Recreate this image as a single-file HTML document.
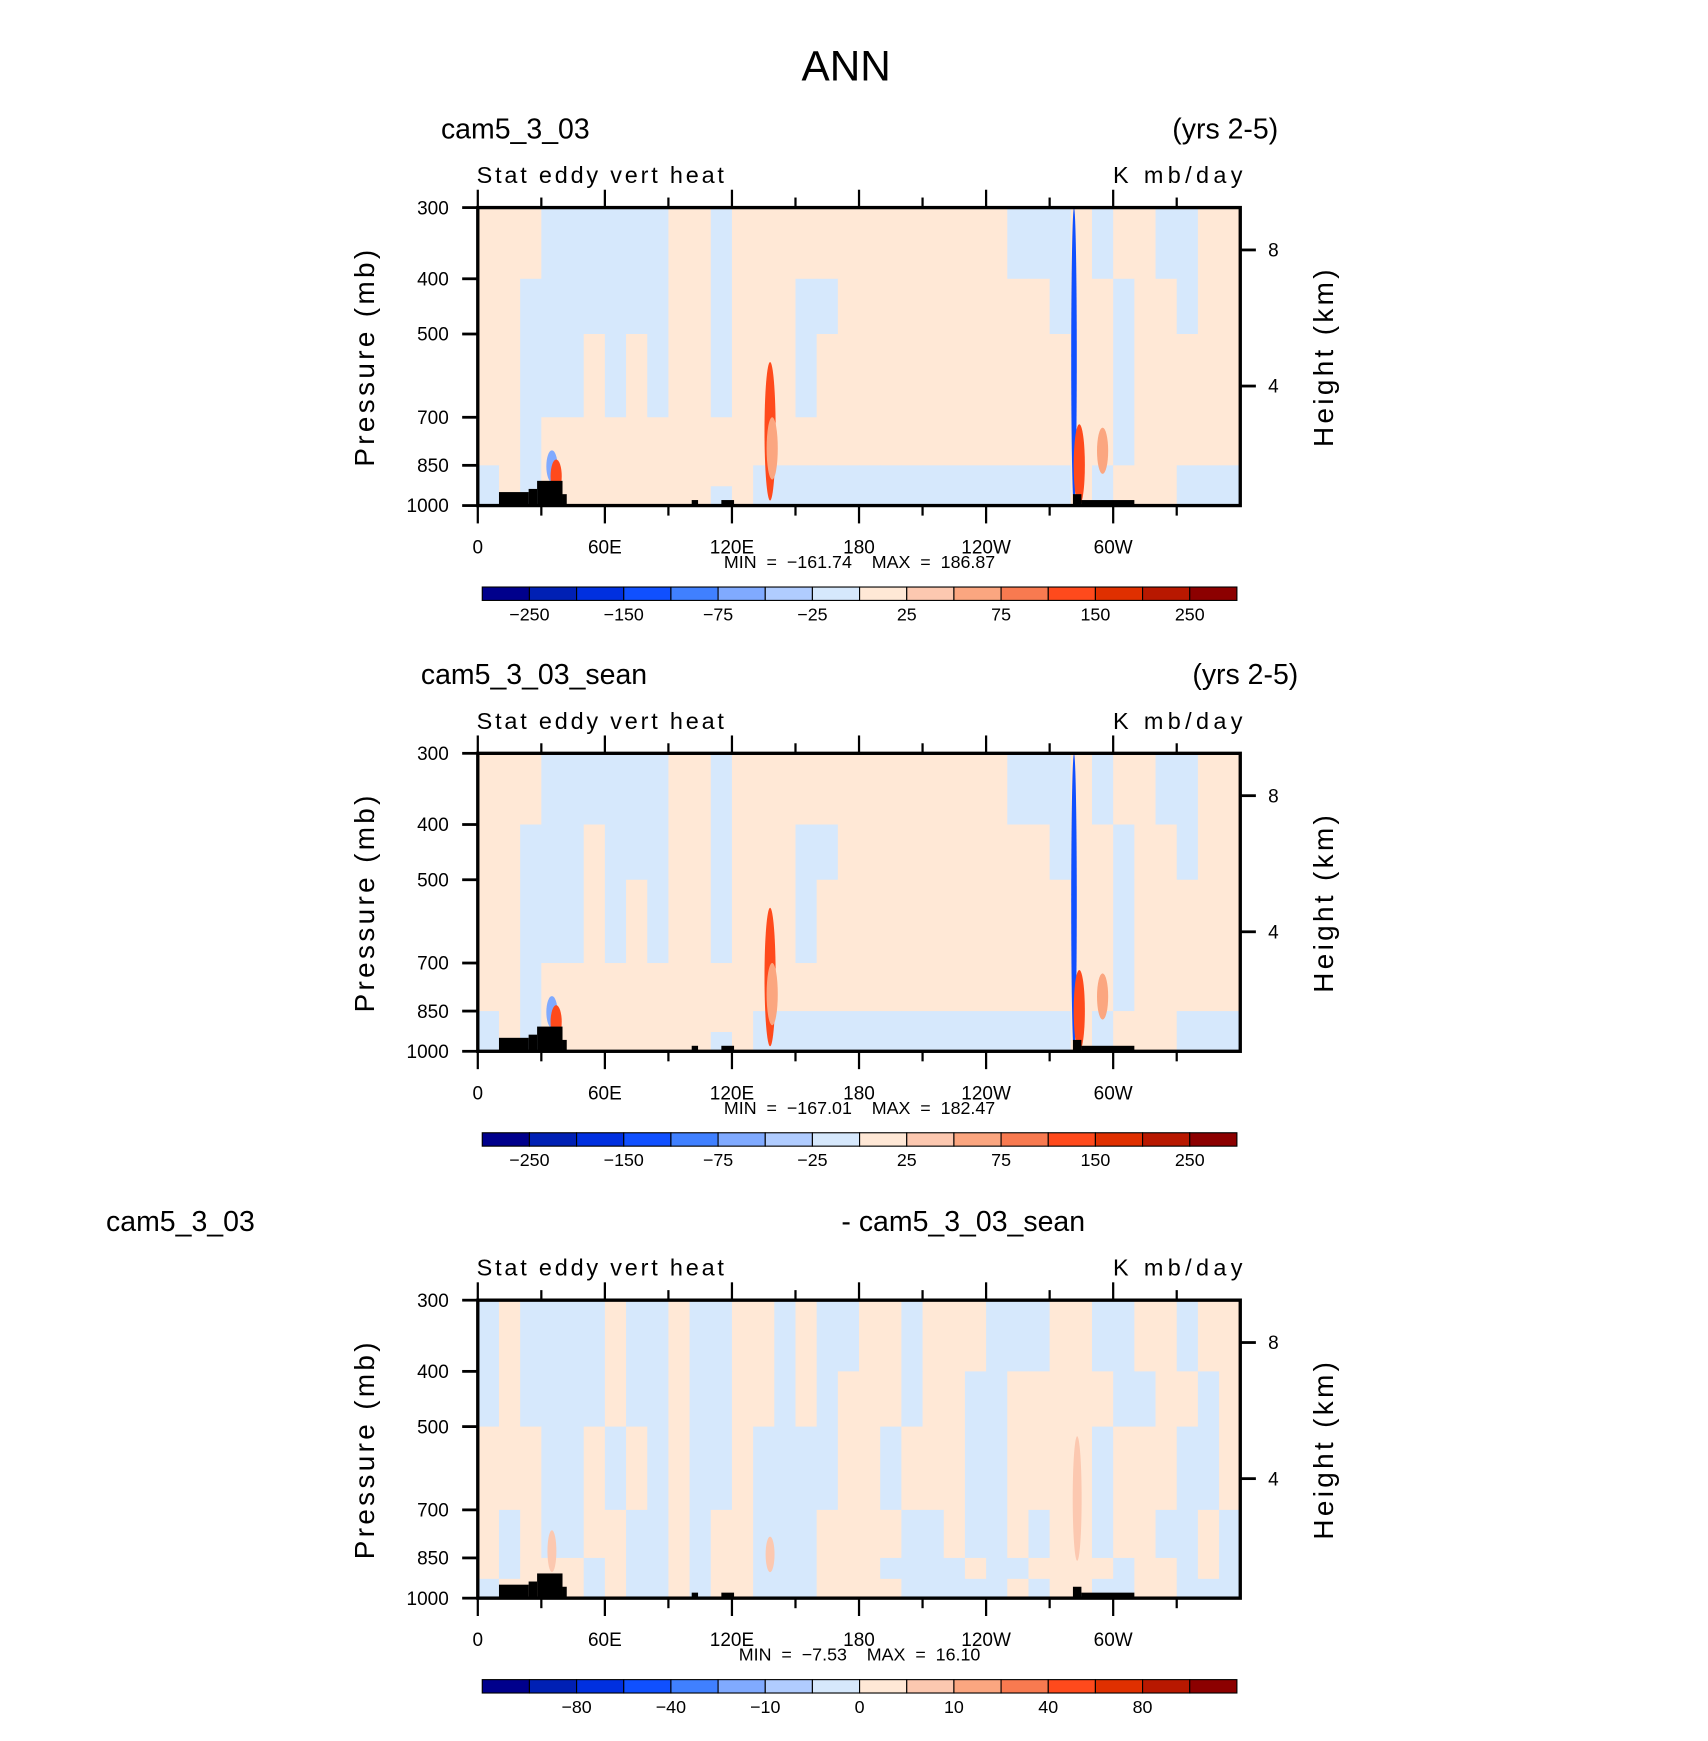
<!DOCTYPE html>
<html><head><meta charset="utf-8"><style>
html,body{margin:0;padding:0;background:#fff}
svg{display:block}
text{font-family:"Liberation Sans",sans-serif;fill:#000}
</style></head><body>
<svg id="fig" width="1708" height="1741" viewBox="0 0 1530 1560" preserveAspectRatio="none" xmlns="http://www.w3.org/2000/svg">
<text x="758" y="72" font-size="38" text-anchor="middle" font-weight="300" textLength="80" lengthAdjust="spacingAndGlyphs">ANN</text>
</svg>
<script>
// ---- data ----
const lonTickLabels = ["0","60E","120E","180","120W","60W"];
const lonTickValues = [0,60,120,180,240,300];
const presTicks = [300,400,500,700,850,1000];
const heightTicks = [8,4];
const heightTickPres = [356,617];
const rowEdges = [300,400,500,700,850,925,1000];
const panel1Rows = [
"pppbbbbbbppbpppppppppppppbbbpbppbbpp",
"ppbbbbbbbppbpppbbppppppppppbppbppbpp",
"ppbbbpbpbppbpppbppppppppppppppbppppp",
"ppbpppppppppppppppppppppppppppbppppp",
"bpbppppppppppbbbbbbbbbbbbbbbpbpppbbb",
"bpbppppppppbpbbbbbbbbbbbbbbbpbpppbbb"];
const panel2Rows = [
"pppbbbbbbppbpppppppppppppbbbpbppbbpp",
"ppbbbpbbbppbpppbbppppppppppbppbppbpp",
"ppbbbpbpbppbpppbppppppppppppppbppppp",
"ppbpppppppppppppppppppppppppppbppppp",
"bpbppppppppppbbbbbbbbbbbbbbbpbpppbbb",
"bpbppppppppbpbbbbbbbbbbbbbbbpbpppbbb"];
const panel3Rows = [
"bpbbbbpbbpbbppbpbbppbpppbbbppbbppbpp",
"bpbbbbpbbpbbppbpbpppbppbbpppppbbppbp",
"pppbbpbpbpbbpbbbbppbpppbbppppbpppbbp",
"pbpbbppbbpbppbbbppppbbpbbpbppbppbbpb",
"pbpppbpbbpbppbbbpppbbbbpbbppppbppbpb",
"bppppbpbbpbppbbbppppbbbbbpbppbbppbbb"];
// features: [lon, pTop, pBottom, level]
const panel1Feat = [[138,560,980,150],[139,700,900,75],[281.5,300,1000,-150],[284,720,1000,150],[35,800,910,-75],[37,830,950,150],[295,730,880,75]];
const panel2Feat = [[138,560,980,150],[139,700,900,75],[281.5,300,1000,-150],[284,720,1000,150],[35,800,910,-75],[37,830,950,150],[295,730,880,75]];
const panel3Feat = [[283,520,860,10],[35,760,900,10],[138,780,900,10]];
// topography: [lonStart, lonEnd, pTop]
const topo = [[10,24,947],[24,28,935],[28,40,905],[40,42,955],[101,104,978],[115,121,978],[281,285,955],[285,310,978]];
const cbColors = ["#00008c","#0020b4","#0030e0","#1050ff","#4080ff","#80aaff","#b0ccff","#d6e8fc","#ffe8d6","#fcc8b0","#fba680","#f87a50","#ff4a1c","#e03000","#b81800","#8c0000"];
const cbLabels12 = ["-250","-150","-75","-25","25","75","150","250"];
const cbLabels3 = ["-80","-40","-10","0","10","40","80"];
const minMax = [["-161.74","186.87"],["-167.01","182.47"],["-7.53","16.10"]];
// ---- drawing ----
const svg = document.getElementById('fig');
const NS = "http://www.w3.org/2000/svg";
const X0 = 428, X1 = 1111;
function mk(tag, attrs, parent){const e=document.createElementNS(NS,tag);for(const k in attrs)e.setAttribute(k,attrs[k]);(parent||svg).appendChild(e);return e;}
function xs(lon){return X0+(X1-X0)*lon/360;}
function colorFor(c){return c==='b'?"#d6e8fc":c==='o'?"#fcc8b0":"#ffe8d6";}
function levelColor(v,scale3){
  if(scale3){ if(v>=40)return "#f87a50"; if(v>=10)return "#fcc8b0"; if(v<=-10)return "#b0ccff"; return "#ffe8d6";}
  if(v<=-150)return "#1050ff"; if(v<=-75)return "#80aaff"; if(v>=150)return "#ff4a1c"; if(v>=75)return "#fba680"; return "#fcc8b0";
}
function panel(idx, top, rows, feats, labels, titleL, titleR, tlx, trx){
  const Y0=top, Y1=top+267;
  const ys=p=>Y1-(Y1-Y0)*Math.log(1000/p)/Math.log(1000/300);
  const g=mk('g',{});
  
  
  const t1=mk('text',{x:tlx,y:top-62,'font-size':25.5},g); t1.textContent=titleL;
   
  const t2=mk('text',{x:trx,y:top-62,'font-size':25.5,'text-anchor':'end'},g); t2.textContent=titleR;
   
  const s1=mk('text',{x:427,y:top-22,'font-size':21,'letter-spacing':'1.5',textLength:223},g); s1.textContent="Stat  eddy  vert  heat";
   
  const s2=mk('text',{x:997,y:top-22,'font-size':21,textLength:116},g); s2.textContent="K  mb/day";
   
  for(let r=0;r<rows.length;r++){
    for(let c=0;c<36;c++){
      const ch=rows[r][c]||'p';
      const rc=mk('rect',{x:xs(c*10),y:ys(rowEdges[r]),width:xs(10)-X0+0.6,height:ys(rowEdges[r+1])-ys(rowEdges[r])+0.6,fill:colorFor(ch)},g);
      
      
    }
  }
  feats.forEach(f=>{
    const cx=xs(f[0]), yt=ys(f[1]), yb=ys(f[2]);
    const w=f[3]===-150?2.5:(idx===3?4:5);
    const el=mk('ellipse',{cx:cx,cy:(yt+yb)/2,rx:w,ry:(yb-yt)/2,fill:levelColor(f[3],idx===3)},g);
    
    
  });
  topo.forEach(t=>{
    const tr=mk('rect',{x:xs(t[0]),y:ys(t[2]),width:xs(t[1])-xs(t[0]),height:Y1-ys(t[2]),fill:'#000'},g);
    
    
  });
  const fr=mk('rect',{x:X0,y:Y0,width:X1-X0,height:Y1-Y0,fill:'none',stroke:'#000','stroke-width':3},g);
   
  for(let lon=0;lon<360;lon+=30){
    const major=lon%60===0, L=major?16:9;
    mk('line',{x1:xs(lon),x2:xs(lon),y1:Y0,y2:Y0-L,stroke:'#000','stroke-width':2},g);
    mk('line',{x1:xs(lon),x2:xs(lon),y1:Y1,y2:Y1+L,stroke:'#000','stroke-width':2},g);
  }
  lonTickValues.forEach((v,i)=>{
    const tl=mk('text',{x:xs(v),y:Y1+43,'font-size':17,'text-anchor':'middle'},g); tl.textContent=lonTickLabels[i];
     
  });
  presTicks.forEach(p=>{
    mk('line',{x1:X0,x2:X0-14,y1:ys(p),y2:ys(p),stroke:'#000','stroke-width':2.5},g);
    const tl=mk('text',{x:X0-26,y:ys(p)+6,'font-size':17,'text-anchor':'end'},g); tl.textContent=p;
     
  });
  heightTicks.forEach((h,i)=>{
    const y=ys(heightTickPres[i]);
    mk('line',{x1:X1,x2:X1+14,y1:y,y2:y,stroke:'#000','stroke-width':2.5},g);
    const tl=mk('text',{x:X1+25,y:y+6,'font-size':17},g); tl.textContent=h;
     
  });
  const yl=mk('text',{x:0,y:0,'font-size':25,'letter-spacing':'3','text-anchor':'middle',transform:`translate(335,${(Y0+Y1)/2}) rotate(-90)`},g);
  yl.textContent="Pressure  (mb)";
   
  const hl=mk('text',{x:0,y:0,'font-size':25,'letter-spacing':'3','text-anchor':'middle',transform:`translate(1194,${(Y0+Y1)/2}) rotate(-90)`},g);
  hl.textContent="Height  (km)";
   
  const mm=mk('text',{x:770,y:Y1+56,'font-size':16,'text-anchor':'middle',style:'white-space:pre'},g);
  mm.textContent=`MIN  =  ${minMax[idx-1][0].replace('-','\u2212')}    MAX  =  ${minMax[idx-1][1]}`;
   
  const cy=Y1+73, cx0=432, cw=(1108-432)/16;
  cbColors.forEach((c,i)=>{
    const b=mk('rect',{x:cx0+i*cw,y:cy,width:cw,height:12,fill:c,stroke:'#000','stroke-width':1},g);
     
  });
  labels.forEach((l,i)=>{
    const off = idx<3 ? 1+2*i : 2+2*i;
    const tl=mk('text',{x:cx0+cw*off,y:cy+30,'font-size':16,'text-anchor':'middle'},g); tl.textContent=l.replace('-','\u2212');
     
  });
}
panel(1,186,panel1Rows,panel1Feat,cbLabels12,"cam5_3_03","(yrs 2-5)",395,1145);
panel(2,675,panel2Rows,panel2Feat,cbLabels12,"cam5_3_03_sean","(yrs 2-5)",377,1163);
panel(3,1165,panel3Rows,panel3Feat,cbLabels3,"cam5_3_03","- cam5_3_03_sean",95,972);
</script>
</body></html>
